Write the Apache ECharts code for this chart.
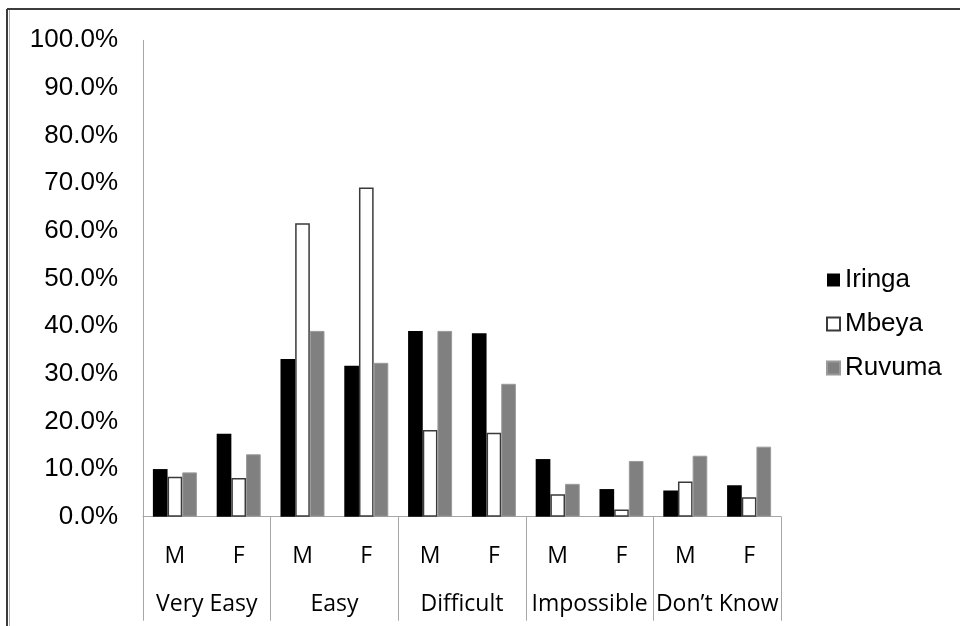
<!DOCTYPE html>
<html>
<head>
<meta charset="utf-8">
<script src="https://cdn.jsdelivr.net/npm/echarts@6/dist/echarts.min.js"></script>
<style>
html,body{margin:0;padding:0;background:#fff;}
#chart{width:960px;height:626px;}
</style>
</head>
<body>
<div id="chart"></div>
<script>
var subCategories = ['M','F','M','F','M','F','M','F','M','F'];
var groupCategories = ['Very Easy','Easy','Difficult','Impossible','Don\u2019t Know'];
var seriesNames = ['Iringa','Mbeya','Ruvuma'];
var iringa = [10.0,17.4,33.1,31.7,39.0,38.5,12.1,5.8,5.5,6.6];
var mbeya  = [8.4,8.1,61.6,69.1,18.2,17.6,4.7,1.5,7.4,4.1];
var ruvuma = [9.3,13.1,39.0,32.3,39.0,27.9,6.9,11.7,12.8,14.7];
var yTicks = [0,10,20,30,40,50,60,70,80,90,100];

var chart = echarts.init(document.getElementById('chart'), null, {renderer:'canvas'});
var axisGray = '#a6a6a6';
chart.setOption({
  animation:false,
  backgroundColor:'#ffffff',
  grid:{left:143,right:179,top:40.3,bottom:109.3,outerBoundsMode:'none',containLabel:false},
  legend:{
    orient:'vertical', left:826, top:267, padding:0,
    itemWidth:13, itemHeight:13, itemGap:18,
    icon:'rect',
    data:seriesNames,
    textStyle:{fontFamily:'Liberation Sans',fontSize:26,color:'#000'}
  },
  xAxis:[{
    type:'category', data:subCategories, position:'bottom',
    axisLine:{show:true,lineStyle:{color:axisGray,width:1}},
    axisTick:{show:false},
    axisLabel:{interval:0,margin:28,fontFamily:'Open Sans',fontSize:23,color:'#000',lineHeight:23},
    splitLine:{show:false}
  },{
    type:'category', data:groupCategories, position:'bottom',
    axisLine:{show:false},
    axisTick:{show:true,interval:0,length:104,lineStyle:{color:axisGray,width:1}},
    axisLabel:{interval:0,margin:76,fontFamily:'Open Sans',fontSize:23,color:'#000',lineHeight:23},
    splitLine:{show:false}
  }],
  yAxis:{
    type:'value', min:0, max:100, interval:10,
    axisLine:{show:true,lineStyle:{color:axisGray,width:1}},
    axisTick:{show:false},
    splitLine:{show:false},
    axisLabel:{margin:25,fontFamily:'Liberation Sans',fontSize:26,color:'#000',
      formatter:function(v){return v.toFixed(1)+'%';}}
  },
  series:[{
    name:seriesNames[0], type:'bar', xAxisIndex:0, data:iringa,
    barGap:'0%', barCategoryGap:'31%',
    itemStyle:{color:'#000000',borderColor:'#000000',borderWidth:0}
  },{
    name:seriesNames[1], type:'bar', xAxisIndex:0, data:mbeya,
    barGap:'0%', barCategoryGap:'31%',
    itemStyle:{color:'#ffffff',borderColor:'#3a3a3a',borderWidth:1.5}
  },{
    name:seriesNames[2], type:'bar', xAxisIndex:0, data:ruvuma,
    barGap:'0%', barCategoryGap:'31%',
    itemStyle:{color:'#808080',borderColor:'#9a9a9a',borderWidth:1}
  }],
  graphic:[
    {type:'line',shape:{x1:7,y1:9,x2:960,y2:9},style:{stroke:'#3c3c3c',lineWidth:2},silent:true},
    {type:'line',shape:{x1:7,y1:9,x2:7,y2:626},style:{stroke:'#3c3c3c',lineWidth:2},silent:true},
    {type:'line',shape:{x1:9.5,y1:10,x2:9.5,y2:626},style:{stroke:'#b0b0b0',lineWidth:1},silent:true}
  ]
});
</script>
</body>
</html>
